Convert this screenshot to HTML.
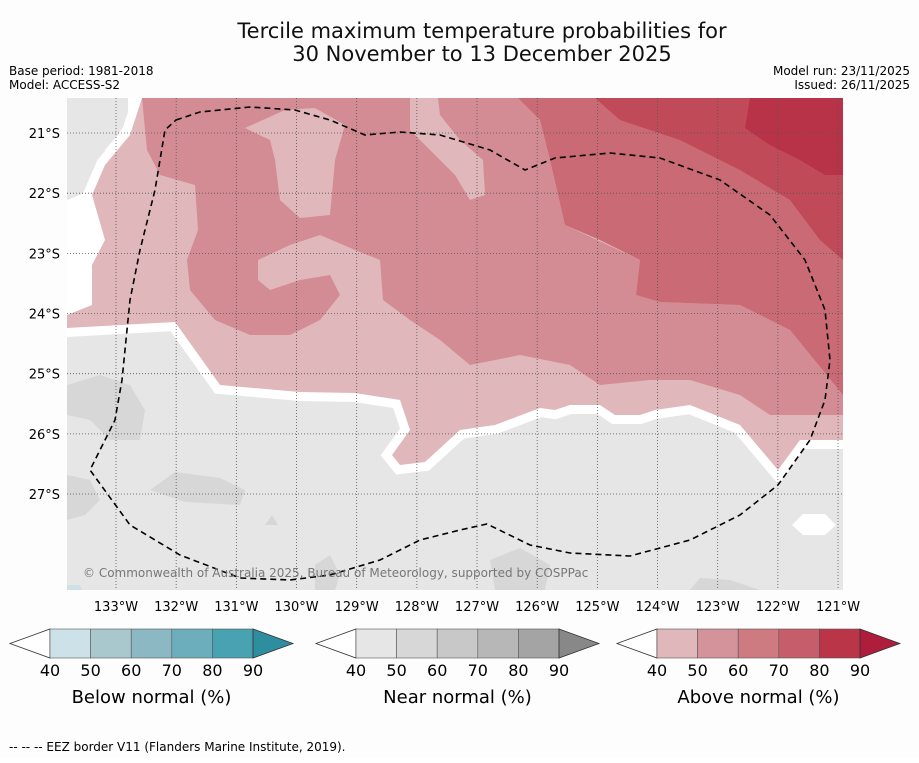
<!DOCTYPE html>
<html><head><meta charset="utf-8">
<style>
body{margin:0;background:#fff;width:919px;height:758px;overflow:hidden;font-family:"Liberation Sans","DejaVu Sans",sans-serif;}
</style></head>
<body>
<svg id="chart" width="919" height="758" xmlns="http://www.w3.org/2000/svg" font-family="DejaVu Sans, Liberation Sans, sans-serif">
<rect width="919" height="758" fill="#fdfdfd"/>
<text x="482" y="38" font-size="21" text-anchor="middle" fill="#111">Tercile maximum temperature probabilities for</text>
<text x="482" y="61" font-size="21" text-anchor="middle" fill="#111">30 November to 13 December 2025</text>
<text x="9" y="75" font-size="12">Base period: 1981-2018</text>
<text x="9" y="89" font-size="12">Model: ACCESS-S2</text>
<text x="910" y="75" font-size="12" text-anchor="end">Model run: 23/11/2025</text>
<text x="910" y="89" font-size="12" text-anchor="end">Issued: 26/11/2025</text>
<defs><clipPath id="mapclip"><rect x="67" y="98" width="776" height="492"/></clipPath></defs>
<g clip-path="url(#mapclip)">
<rect x="67" y="98" width="776" height="492" fill="#e6e6e6"/>
<path fill="#d7d7d7" d="M67,385 L100,375 L130,385 L145,410 L140,440 L110,440 L90,420 L67,415Z M150,490 L175,472 L220,478 L245,490 L240,505 L185,502Z M67,475 L90,480 L100,500 L85,515 L67,520Z M265,525 L272,515 L278,525Z M315,565 L330,555 L340,575 L335,590 L315,590Z M490,560 L520,548 L550,565 L545,590 L495,590Z M690,590 L700,578 L730,580 L760,590Z"/>
<path fill="#cde2e8" d="M67,585 L80,585 L82,590 L67,590Z"/>
<path fill="#fff" d="M67,200 L92,190 L92,175 L105,170 L105,150 L118,135 L128,120 L128,98 L142,98 L142,110 L130,135 L105,165 L92,195 L105,240 L92,265 L92,310 L67,322Z"/>
<path fill="#e0b7bb" stroke="#ffffff" stroke-width="18" stroke-linejoin="miter" paint-order="stroke" d="M142,98 L843,98 L843,440 L800,440 L778,470 L740,425 L690,405 L655,410 L640,415 L615,415 L600,405 L570,405 L555,410 L540,408 L495,425 L460,430 L425,462 L400,465 L392,455 L410,430 L400,400 L355,393 L300,392 L220,385 L175,322 L67,328 L67,315 L92,305 L92,265 L105,240 L92,195 L105,165 L130,135 Z"/>
<path fill="#d48c94" d="M142,98 L518,98 L540,120 L550,160 L565,225 L640,260 L636,295 L660,302 L740,305 L790,330 L843,395 L843,415 L770,415 L740,395 L690,380 L650,380 L600,385 L570,365 L520,355 L470,365 L440,340 L410,320 L383,300 L380,260 L355,250 L320,235 L290,245 L258,260 L258,280 L270,290 L300,280 L330,275 L340,295 L320,320 L290,335 L250,335 L215,320 L190,290 L187,260 L198,230 L195,185 L160,175 L147,150 Z"/>
<path fill="#e0b7bb" d="M245,128 L285,110 L315,108 L345,125 L335,160 L330,215 L300,218 L280,200 L275,160 L270,140Z"/>
<path fill="#e0b7bb" d="M410,98 L438,98 L440,115 L460,140 L483,160 L485,195 L470,200 L455,175 L430,150 L410,130Z"/>
<path fill="#c96a74" d="M518,98 L843,98 L843,395 L790,330 L740,305 L660,302 L636,295 L640,260 L600,240 L565,225 L550,160 L540,120Z"/>
<path fill="#c04a57" d="M595,98 L843,98 L843,260 L820,240 L790,200 L740,170 L680,140 L620,120Z"/>
<path fill="#b83248" d="M750,98 L843,98 L843,175 L825,175 L800,160 L770,145 L745,128Z"/>
<path fill="#fff" d="M792,525 L803,514 L825,514 L836,525 L825,535 L803,535Z"/>
<g stroke="#555" stroke-width="0.8" stroke-dasharray="1,2" id="grid"></g>
<path fill="none" stroke="#000" stroke-width="1.6" stroke-dasharray="6,4" d="M176,120 L200,112 L250,107 L295,110 L330,120 L365,135 L400,132 L440,135 L490,150 L525,170 L555,158 L610,153 L660,158 L720,180 L770,215 L805,260 L825,310 L830,360 L825,400 L810,440 L778,485 L740,515 L690,540 L630,556 L570,553 L530,545 L487,524 L460,530 L420,540 L380,560 L330,575 L290,580 L240,578 L180,555 L130,525 L90,470 L115,420 L122,380 L130,300 L140,250 L155,190 L165,130 Z"/>
<text x="83" y="577" font-size="12" fill="#777">© Commonwealth of Australia 2025, Bureau of Meteorology, supported by COSPPac</text>
</g>
<g id="axes"></g>
<g id="cbars"></g>
<text x="9" y="751" font-size="12">--  --  -- EEZ border V11 (Flanders Marine Institute, 2019).</text>
</svg>
<script>
const lonTicks=[133,132,131,130,129,128,127,126,125,124,123,122,121];
const latTicks=[21,22,23,24,25,26,27];
const cbLevels=[40,50,60,70,80,90];
const cbTitles=["Below normal (%)","Near normal (%)","Above normal (%)"];
const cbColors=[["#ffffff","#cde2e8","#a9c8cd","#8cb8c3","#6daebc","#48a2b2","#2e8ea0"],["#ffffff","#e6e6e6","#d7d7d7","#c8c8c8","#b7b7b7","#a4a4a4","#888888"],["#ffffff","#e0b7bb","#d4929a","#ce7a81","#c55e6a","#bb3549","#ae1d3c"]];
const NS="http://www.w3.org/2000/svg";
const xOf=l=>116+(133-l)*60.17, yOf=l=>133+(l-21)*60.17;
function mk(t,a,p){const e=document.createElementNS(NS,t);for(const k in a)e.setAttribute(k,a[k]);p.appendChild(e);return e;}
const grid=document.getElementById('grid'),axes=document.getElementById('axes');
lonTicks.forEach(l=>{const x=xOf(l);
 const ln=mk('line',{x1:x,x2:x,y1:98,y2:590},grid);
 
 
 const t=mk('text',{x:x,y:611,'font-size':13,'text-anchor':'middle'},axes);t.textContent=l+'°W';
 
 });
latTicks.forEach(l=>{const y=yOf(l);
 const ln=mk('line',{x1:67,x2:843,y1:y,y2:y},grid);
 
 
 const t=mk('text',{x:60,y:y+5,'font-size':13,'text-anchor':'end'},axes);t.textContent=l+'°S';
 
 });
const cb=document.getElementById('cbars');
[10,316,617].forEach((x0,i)=>{
 const g=mk('g',{},cb);
 
 
 const y0=629,h=29,tri=40,bw=40.6;
 const c=cbColors[i];
 mk('polygon',{points:`${x0},${y0+h/2} ${x0+tri},${y0} ${x0+tri},${y0+h}`,fill:c[0],stroke:'#333','stroke-width':0.8},g);
 for(let k=0;k<5;k++)mk('rect',{x:x0+tri+k*bw,y:y0,width:bw,height:h,fill:c[k+1],stroke:'#555','stroke-width':0.6},g);
 const xe=x0+tri+5*bw;
 mk('polygon',{points:`${xe},${y0} ${xe+tri},${y0+h/2} ${xe},${y0+h}`,fill:c[6],stroke:'#333','stroke-width':0.8},g);
 cbLevels.forEach((v,k)=>{const t=mk('text',{x:x0+tri+k*bw,y:676,'font-size':16,'text-anchor':'middle'},g);t.textContent=v;
  
  });
 const tt=mk('text',{x:x0+tri+2.5*bw,y:703,'font-size':18,'text-anchor':'middle'},g);tt.textContent=cbTitles[i];
 
 
});
</script>
</body></html>
